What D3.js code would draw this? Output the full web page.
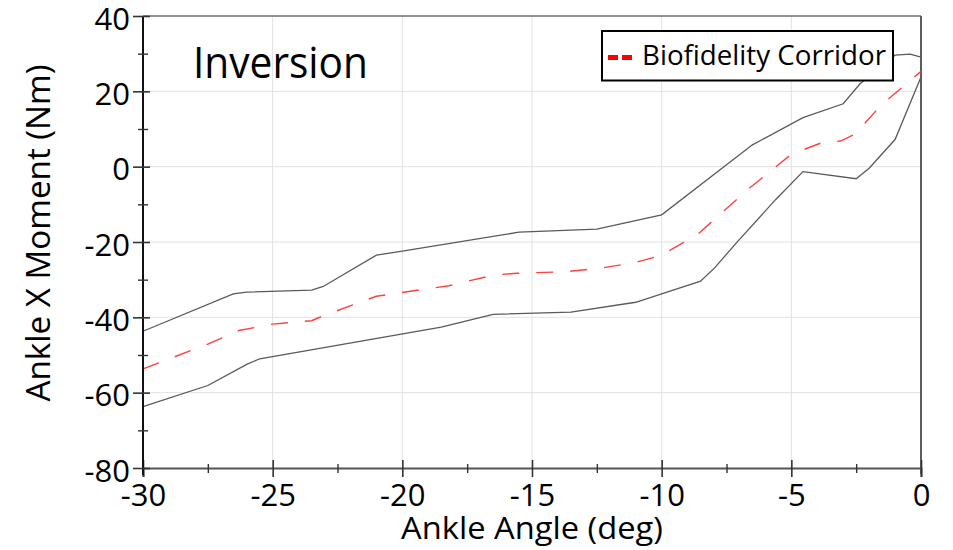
<!DOCTYPE html>
<html>
<head>
<meta charset="utf-8">
<script src="https://cdn.jsdelivr.net/npm/d3@7"></script>
<style>
  html, body { margin: 0; padding: 0; background: #fff; }
  svg { display: block; }
  text { font-family: "Open Sans", "DejaVu Sans", sans-serif; fill: #000; }
</style>
</head>
<body>
<svg id="chart" width="953" height="550"></svg>
<script>
// ---- data ----
const upperX = [-30, -26.52, -26.0, -23.5, -23.05, -21.0, -20.0, -15.5, -12.5, -10.0, -6.5, -4.55, -3.0, -2.35, -1.0, -0.42, 0];
const upperY = [-43.7, -33.8, -33.3, -32.8, -31.8, -23.5, -22.4, -17.4, -16.6, -12.8, 5.8, 13.0, 16.7, 22.0, 29.6, 29.9, 29.1];

const lowerX = [-30, -27.5, -26.0, -25.5, -18.5, -16.5, -13.5, -11.0, -10.0, -8.5, -7.95, -7.05, -5.6, -4.55, -2.5, -2.0, -1.0, 0];
const lowerY = [-63.7, -58.1, -52.5, -51.0, -42.6, -39.2, -38.6, -36.0, -33.8, -30.4, -26.8, -19.7, -8.7, -1.3, -3.2, -0.4, 7.2, 23.8];

const meanX = [-30, -27.5, -26.3, -25.0, -23.5, -23.05, -21.0, -18.2, -16.5, -15.6, -13.7, -12.3, -11.0, -10.0, -8.6, -6.6, -5.0, -3.85, -3.1, -2.55, -1.45, -1.2, 0];
const meanY = [-53.7, -47.1, -43.5, -41.8, -40.9, -39.6, -34.4, -31.6, -28.8, -28.3, -27.9, -26.9, -25.4, -23.5, -17.9, -5.6, 3.3, 6.3, 6.8, 8.6, 17.0, 18.3, 25.3];

const xMajorTicks = [-30, -25, -20, -15, -10, -5, 0];
const xMinorTicks = [-27.5, -22.5, -17.5, -12.5, -7.5, -2.5];
const yMajorTicks = [-80, -60, -40, -20, 0, 20, 40];
const yMinorTicks = [-70, -50, -30, -10, 10, 30];

const titleText = "Inversion";
const legendLabel = "Biofidelity Corridor";
const xAxisTitle = "Ankle Angle (deg)";
const yAxisTitle = "Ankle X Moment (Nm)";

// ---- layout ----
const L = 143, R = 921, T = 16, B = 468;
const svg = d3.select("#chart");
const x = d3.scaleLinear().domain([-30, 0]).range([L, R]);
const y = d3.scaleLinear().domain([-80, 40]).range([B, T]);
const fmt = d => String(d); // plain hyphen-minus, as in the reference

// gridlines
const grid = svg.append("g");
grid.selectAll("line.gx").data(xMajorTicks.filter(d => d > -30 && d < 0)).join("line")
  .attr("x1", d => x(d)).attr("x2", d => x(d)).attr("y1", T).attr("y2", B)
  .attr("stroke", "#e2e2e2").attr("stroke-width", 1);
grid.selectAll("line.gy").data(yMajorTicks.filter(d => d > -80 && d < 40)).join("line")
  .attr("x1", L).attr("x2", R).attr("y1", d => y(d)).attr("y2", d => y(d))
  .attr("stroke", "#e2e2e2").attr("stroke-width", 1);

// frame (top and right)
svg.append("line").attr("x1", L).attr("x2", R).attr("y1", T).attr("y2", T)
  .attr("stroke", "#6e6e6e").attr("stroke-width", 1.6);
svg.append("line").attr("x1", R).attr("x2", R).attr("y1", T).attr("y2", B + 6)
  .attr("stroke", "#5e5e5e").attr("stroke-width", 2);

// data lines
const lineGen = d3.line().x(d => x(d[0])).y(d => y(d[1]));
const upper = upperX.map((v, i) => [v, upperY[i]]);
const lower = lowerX.map((v, i) => [v, lowerY[i]]);
const mean = meanX.map((v, i) => [v, meanY[i]]);

svg.append("path").datum(upper).attr("d", lineGen)
  .attr("fill", "none").attr("stroke", "#5a5a5a").attr("stroke-width", 1.3);
svg.append("path").datum(lower).attr("d", lineGen)
  .attr("fill", "none").attr("stroke", "#5a5a5a").attr("stroke-width", 1.3);
svg.append("path").datum(mean).attr("d", lineGen)
  .attr("fill", "none").attr("stroke", "#ff4040").attr("stroke-width", 1.4)
  .attr("stroke-dasharray", "17,17");

// x axis
const xAxis = svg.append("g").attr("transform", `translate(0,${B})`)
  .call(d3.axisBottom(x).tickValues(xMajorTicks).tickSize(9).tickFormat(fmt));
xAxis.select(".domain").attr("stroke", "#555").attr("stroke-width", 2);
xAxis.selectAll(".tick line").attr("y1", -8).attr("stroke", "#333").attr("stroke-width", 1.6);
xAxis.selectAll(".tick text").attr("y", 37.5).attr("dy", null)
  .style("font-size", "31px").style("font-family", '"Open Sans", sans-serif').attr("fill", "#000");
const xMinor = svg.append("g").attr("transform", `translate(0,${B})`)
  .call(d3.axisBottom(x).tickValues(xMinorTicks).tickSize(5).tickFormat(""));
xMinor.select(".domain").remove();
xMinor.selectAll(".tick line").attr("y1", -4).attr("stroke", "#333").attr("stroke-width", 1.4);

// y axis
const yAxis = svg.append("g").attr("transform", `translate(${L},0)`)
  .call(d3.axisLeft(y).tickValues(yMajorTicks).tickSize(10).tickFormat(fmt));
yAxis.select(".domain").attr("stroke", "#111").attr("stroke-width", 2)
  .attr("d", `M0,${T}V${B + 7}`);
yAxis.selectAll(".tick line").attr("x1", 7).attr("stroke", "#333").attr("stroke-width", 1.6);
yAxis.selectAll(".tick text").attr("x", -13).attr("dy", null).attr("y", 13)
  .style("font-size", "31px").style("font-family", '"Open Sans", sans-serif').attr("fill", "#000");
const yMinor = svg.append("g").attr("transform", `translate(${L},0)`)
  .call(d3.axisLeft(y).tickValues(yMinorTicks).tickSize(5).tickFormat(""));
yMinor.select(".domain").remove();
yMinor.selectAll(".tick line").attr("x1", 5).attr("stroke", "#333").attr("stroke-width", 1.4);

// axis titles
svg.append("text").attr("x", (L + R) / 2).attr("y", 538.5).attr("text-anchor", "middle")
  .attr("textLength", 262).attr("lengthAdjust", "spacingAndGlyphs")
  .style("font-size", "31px").text(xAxisTitle);
svg.append("text").attr("transform", "translate(50,233) rotate(-90)").attr("text-anchor", "middle")
  .attr("textLength", 337).attr("lengthAdjust", "spacingAndGlyphs")
  .style("font-size", "32px").text(yAxisTitle);

// inner title
svg.append("text").attr("x", 193).attr("y", 77.5)
  .attr("textLength", 175).attr("lengthAdjust", "spacingAndGlyphs")
  .style("font-size", "43px").text(titleText);

// legend
const lg = svg.append("g");
lg.append("rect").attr("x", 602).attr("y", 31).attr("width", 291).attr("height", 49.5)
  .attr("fill", "#fff").attr("stroke", "#000").attr("stroke-width", 2);
lg.append("line").attr("x1", 608).attr("x2", 632).attr("y1", 57.5).attr("y2", 57.5)
  .attr("stroke", "#ff0000").attr("stroke-width", 5).attr("stroke-dasharray", "10,4");
lg.append("text").attr("x", 642).attr("y", 65)
  .attr("textLength", 244).attr("lengthAdjust", "spacingAndGlyphs")
  .style("font-size", "28px").text(legendLabel);
</script>
</body>
</html>
